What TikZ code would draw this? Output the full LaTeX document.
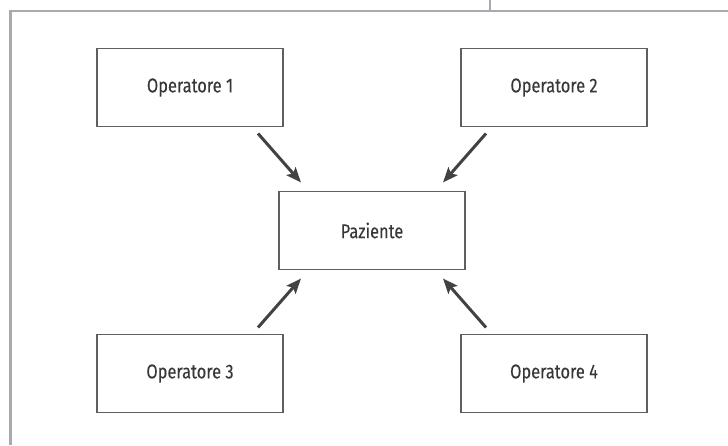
\documentclass[tikz,border=0pt]{standalone}
\usepackage{fontspec}
\newfontfamily\boxfont{Fira Sans}[FakeStretch=0.82, FakeBold=0.12]
\definecolor{FrameGrey}{RGB}{168, 170, 176}
\definecolor{BoxGrey}{RGB}{95, 95, 95}
\definecolor{ArrowGrey}{RGB}{66, 66, 66}
\definecolor{TextGrey}{RGB}{55, 55, 55}
\usepackage{tikz}
\usetikzlibrary{arrows.meta, positioning}
\usepackage{xcolor}
\tikzset{
  opbox/.style={rectangle, draw=#1, fill=white, line width=1.8pt, outer sep=0pt,
                minimum width=186pt, minimum height=78pt,
                font=\boxfont\fontsize{20}{23}\selectfont, text=TextGrey, align=center},
  arr/.style={-{Stealth[length=15pt, width=12pt, inset=3pt]}, line width=3pt, color=#1},
  frameline/.style={draw=#1, line width=2.2pt},
}

\begin{document}
\begin{tikzpicture}[x=1pt, y=1pt, node distance=65pt]
      \useasboundingbox (0,0) rectangle (728,445);
      \draw[frameline=FrameGrey] (10.5,0) -- (10.5,434) -- (728,434);
      \draw[frameline=FrameGrey] (490,434) -- (490,445);

      \node[opbox=BoxGrey] (paz) at (372,214.5) {Paziente};
      \node[opbox=BoxGrey, above left=65pt and -4pt of paz] (op1) {Operatore 1};
      \node[opbox=BoxGrey, above right=65pt and -4pt of paz] (op2) {Operatore 2};
      \node[opbox=BoxGrey, below left=65pt and -4pt of paz] (op3) {Operatore 3};
      \node[opbox=BoxGrey, below right=65pt and -4pt of paz] (op4) {Operatore 4};

      \draw[arr=ArrowGrey] ([shift={(-25,-7)}]op1.south east) -- ([shift={(22,9)}]paz.north west);
      \draw[arr=ArrowGrey] ([shift={(25,-7)}]op2.south west) -- ([shift={(-22,9)}]paz.north east);
      \draw[arr=ArrowGrey] ([shift={(-25,7)}]op3.north east) -- ([shift={(22,-9)}]paz.south west);
      \draw[arr=ArrowGrey] ([shift={(25,7)}]op4.north west) -- ([shift={(-22,-9)}]paz.south east);
    \end{tikzpicture}
\end{document}
